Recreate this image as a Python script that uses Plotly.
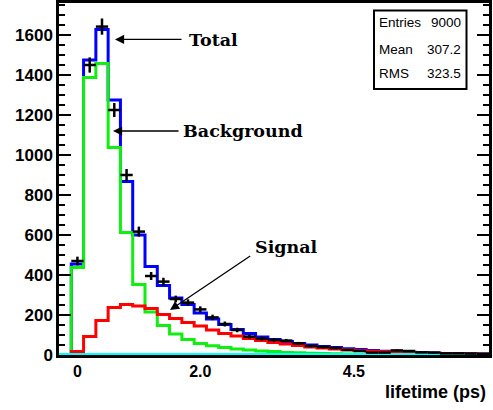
import numpy as np
import plotly.graph_objects as go

# ---------------- data ----------------
BIN_WIDTH = 0.2
bin_centers = np.round(np.arange(35) * BIN_WIDTH - 0.2, 2)

total = [0, 455, 1475, 1628, 1275, 868, 600, 442, 347, 285, 252, 210, 180, 153, 128, 108, 90, 78,
         67, 58, 50, 43, 37, 31, 27, 22, 19, 17, 14, 12, 10, 8, 7, 6, 5]
background = [0, 438, 1387, 1458, 1037, 613, 353, 215, 147, 105, 78, 58, 46, 37, 30, 25, 20, 17,
              13, 11, 9, 7, 6, 5, 4, 3, 3, 2, 2, 2, 1, 1, 1, 1, 0]
signal = [0, 17, 92, 172, 238, 253, 245, 233, 203, 183, 162, 145, 125, 108, 95, 83, 72, 62,
          55, 47, 40, 35, 30, 26, 22, 19, 16, 15, 12, 10, 9, 7, 6, 5, 4]
other = [0] * 35
data_counts = [0, 470, 1450, 1642, 1225, 900, 617, 395, 367, 280, 262, 228, 188, 155, 125, 92, 82, 75,
               72, 58, 45, 40, 35, 25, 20, 12, 12, 23, 20, 13, 12, 8, 8, 7, 6]

x_tick_vals = [0, 2.0, 4.5]
x_tick_text = ["0", "2.0", "4.5"]
stats_labels = ["Entries", "Mean", "RMS"]
stats_values = ["9000", "307.2", "323.5"]

# ---------------- helpers ----------------
edges = np.concatenate([bin_centers - BIN_WIDTH / 2, [bin_centers[-1] + BIN_WIDTH / 2]])


def step_xy(vals):
    vals = list(vals)
    x = [edges[0]] + list(edges)
    y = [0] + vals + [vals[-1]]
    return x, y


fig = go.Figure()


def add_hist(vals, color, width, name, clip=True):
    x, y = step_xy(vals)
    fig.add_trace(go.Scatter(x=x, y=y, mode="lines", line=dict(color=color, width=width, shape="hv"),
                             name=name, showlegend=False, cliponaxis=clip, hoverinfo="skip"))


add_hist(total, "#0000ff", 3, "Total")
add_hist(background, "#11ee11", 3, "Background")
add_hist(signal, "#ff0000", 3, "Signal")
add_hist(other, "#00ffff", 4, "Other", clip=False)

dc = np.array(data_counts, dtype=float)
mask = dc > 0
fig.add_trace(go.Scatter(
    x=bin_centers[mask], y=dc[mask], mode="markers",
    marker=dict(size=1, color="black"),
    error_x=dict(type="constant", value=BIN_WIDTH / 2, color="black", thickness=2.5, width=0),
    error_y=dict(type="data", array=np.sqrt(dc[mask]), color="black", thickness=2.5, width=0),
    showlegend=False, hoverinfo="skip"))

# ---------------- layout ----------------
ML, MR, MT, MB = 59, 4, 3, 55
W, H = 493, 410
PW, PH = W - ML - MR, H - MT - MB


def px(x):
    return (x - ML) / PW


def py(y):
    return (H - MB - y) / PH


fig.update_layout(
    width=W, height=H,
    margin=dict(l=ML, r=MR, t=MT, b=MB, autoexpand=False),
    plot_bgcolor="white", paper_bgcolor="white",
    showlegend=False,
)

fig.update_xaxes(
    range=[edges[0], edges[-1]], showgrid=False, zeroline=False, automargin=False,
    showline=True, linecolor="black", linewidth=2.5, mirror=True,
    ticks="", tickvals=x_tick_vals, ticktext=x_tick_text,
    tickfont=dict(family="Liberation Sans", size=16, color="black", weight="bold"),
    layer="below traces",
)

fig.update_yaxes(
    range=[0, 1760], showgrid=False, zeroline=False, automargin=False,
    showline=True, linecolor="black", linewidth=2.5, mirror="ticks",
    ticks="inside", ticklen=12, tickwidth=2, tickcolor="black",
    tick0=0, dtick=200,
    minor=dict(ticks="inside", ticklen=6, tickwidth=2, tickcolor="black", dtick=50, showgrid=False),
    tickfont=dict(family="Liberation Sans", size=17, color="black", weight="bold"),
)

# arrows (data coordinates)
serif = dict(family="DejaVu Serif", size=17.5, color="black", weight="bold")
arrows = [
    # head (x, y), tail (x, y)
    ((0.612, 1578), (1.719, 1578)),
    ((0.579, 1120), (1.670, 1120)),
    ((1.507, 225), (2.837, 500)),
]
for (hx, hy), (tx, ty) in arrows:
    fig.add_annotation(x=hx, y=hy, ax=tx, ay=ty, xref="x", yref="y", axref="x", ayref="y",
                       text="", showarrow=True, arrowhead=2, arrowsize=1.4, arrowwidth=1.3,
                       arrowcolor="black", standoff=0, startstandoff=0)

labels = [("Total", 1.784, 1577), ("Background", 1.681, 1118), ("Signal", 2.858, 540)]
for txt, lx, ly in labels:
    fig.add_annotation(x=lx, y=ly, xref="x", yref="y", text=txt, showarrow=False,
                       xanchor="left", yanchor="middle", font=serif)

# stats box
fig.add_shape(type="rect", xref="paper", yref="paper",
              x0=px(374), x1=px(466.5), y0=py(89), y1=py(10.5),
              line=dict(color="black", width=2), fillcolor="white", layer="above")
row_y = [23, 49, 73.5]
stat_font = dict(family="Liberation Sans", size=13.5, color="black")
for lab, val, ry in zip(stats_labels, stats_values, row_y):
    fig.add_annotation(x=px(377), y=py(ry), xref="paper", yref="paper", text=lab,
                       showarrow=False, xanchor="left", yanchor="middle", font=stat_font)
    fig.add_annotation(x=px(463), y=py(ry), xref="paper", yref="paper", text=val,
                       showarrow=False, xanchor="right", yanchor="middle", font=stat_font)

# axis title
fig.add_annotation(x=px(488), y=py(392), xref="paper", yref="paper", text="lifetime (ps)",
                   showarrow=False, xanchor="right", yanchor="middle",
                   font=dict(family="Liberation Sans", size=18, color="black", weight="bold"))

fig.write_html("out.html", config={"displayModeBar": False},
               post_script="document.body.style.margin='0';document.body.style.overflow='hidden';")
